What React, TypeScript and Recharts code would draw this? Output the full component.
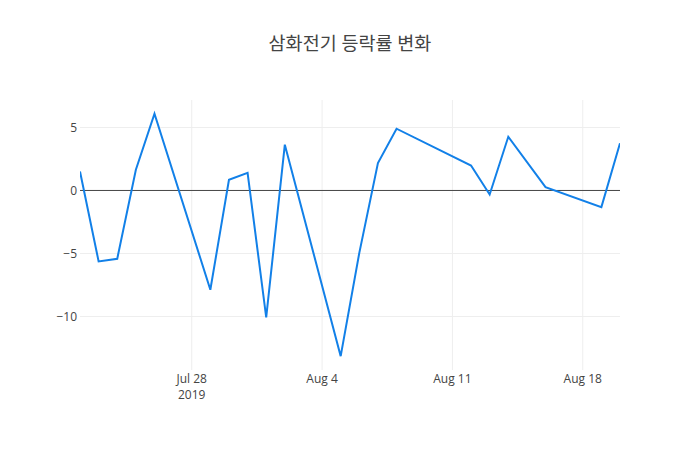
import React from "react";
import { LineChart, Line, XAxis, YAxis, CartesianGrid, ReferenceLine } from "recharts";

const dates = [
  "2019-07-22", "2019-07-23", "2019-07-24", "2019-07-25", "2019-07-26",
  "2019-07-29", "2019-07-30", "2019-07-31", "2019-08-01", "2019-08-02",
  "2019-08-05", "2019-08-06", "2019-08-07", "2019-08-08",
  "2019-08-12", "2019-08-13", "2019-08-14", "2019-08-16",
  "2019-08-19", "2019-08-20",
];
const changes = [
  1.5, -5.63, -5.42, 1.64, 6.09,
  -7.88, 0.85, 1.4, -10.08, 3.63,
  -13.15, -4.95, 2.17, 4.9,
  1.98, -0.32, 4.26, 0.26,
  -1.32, 3.75,
];
const xTickDates = ["2019-07-28", "2019-08-04", "2019-08-11", "2019-08-18"];
const xTickLabels = ["Jul 28", "Aug 4", "Aug 11", "Aug 18"];
const xRange = ["2019-07-22", "2019-08-20"];
const yTicks = [-10, -5, 0, 5];
const yGridValues = [-10, -5, 5];
const yRange = [-14.25, 7.18];
const title = "삼화전기 등락률 변화";

const ts = (d: string) => Date.parse(d + "T00:00:00Z");
const data = dates.map((d, i) => ({ t: ts(d), v: changes[i] }));
const xTicks = xTickDates.map(ts);

const FONT = '"Open Sans", "Noto Sans CJK KR", sans-serif';

const XTick = (props: any) => {
  const { x, y, payload } = props;
  const idx = xTicks.indexOf(payload.value);
  const label = xTickLabels[idx];
  return (
    <g>
      <text x={x} y={y + 13} textAnchor="middle" fill="#444" fontSize={12} fontFamily={FONT}>
        {label}
      </text>
      {idx === 0 && (
        <text x={x} y={y + 29} textAnchor="middle" fill="#444" fontSize={12} fontFamily={FONT}>
          2019
        </text>
      )}
    </g>
  );
};

const fmtY = (v: number) => (v < 0 ? "\u2212" + Math.abs(v) : String(v));

export default function App() {
  return (
    <div style={{ position: "absolute", left: 0, top: 0, width: 700, height: 450, background: "#fff" }}>
      <div
        style={{
          position: "absolute",
          left: 0,
          top: 32,
          width: 700,
          textAlign: "center",
          fontFamily: FONT,
          fontSize: 18.5,
          lineHeight: "22px",
          color: "#444",
        }}
      >
        {title}
      </div>
      <LineChart width={700} height={450} data={data} margin={{ top: 100, right: 80, bottom: 0, left: 0 }}>
        <CartesianGrid stroke="#eee" strokeWidth={1} horizontalValues={yGridValues} verticalValues={xTicks} />
        <XAxis
          dataKey="t"
          type="number"
          domain={xRange.map(ts)}
          ticks={xTicks}
          tick={<XTick />}
          tickLine={false}
          axisLine={false}
          tickSize={0}
          tickMargin={0}
          height={80}
          allowDataOverflow
        />
        <YAxis
          type="number"
          domain={yRange}
          ticks={yTicks}
          tickFormatter={fmtY}
          tick={{ fill: "#444", fontSize: 12, fontFamily: FONT }}
          tickLine={false}
          axisLine={false}
          tickSize={0}
          tickMargin={3}
          width={80}
          allowDataOverflow
        />
        <ReferenceLine y={0} stroke="#444" strokeWidth={1} />
        <Line
          dataKey="v"
          type="linear"
          stroke="#1280e8"
          strokeWidth={2}
          dot={false}
          activeDot={false}
          isAnimationActive={false}
        />
      </LineChart>
    </div>
  );
}
